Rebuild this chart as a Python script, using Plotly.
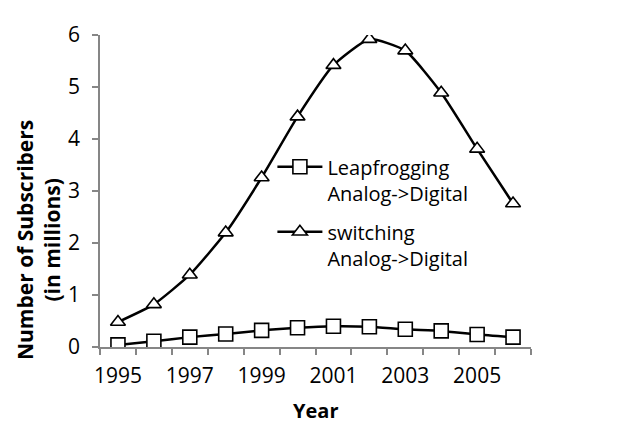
import plotly.graph_objects as go

years = [1995, 1996, 1997, 1998, 1999, 2000, 2001, 2002, 2003, 2004, 2005, 2006]
leapfrogging = [0.04, 0.11, 0.19, 0.25, 0.32, 0.37, 0.40, 0.39, 0.34, 0.31, 0.24, 0.19]
switching = [0.48, 0.82, 1.39, 2.20, 3.26, 4.43, 5.42, 5.92, 5.70, 4.89, 3.81, 2.76]
tick_years = [1995, 1997, 1999, 2001, 2003, 2005]
boundaries = [y - 0.5 for y in years] + [years[-1] + 0.5]

FONT = "Open Sans"

fig = go.Figure()
fig.add_trace(go.Scatter(
    x=years, y=leapfrogging, mode="lines+markers",
    name="Leapfrogging<br>Analog->Digital", legendgroup="a",
    line=dict(color="black", width=2.5, shape="spline", smoothing=0.5),
    marker=dict(symbol="square", size=14, color="white", line=dict(color="black", width=1.6)),
))
fig.add_trace(go.Scatter(
    x=years, y=switching, mode="lines+markers",
    name="switching<br>Analog->Digital", legendgroup="b",
    line=dict(color="black", width=2.5, shape="spline", smoothing=0.5),
    marker=dict(symbol="triangle-up", size=13, color="white", line=dict(color="black", width=1.6)),
))

fig.update_layout(
    width=617, height=426,
    margin=dict(l=92, r=94, t=19, b=87),
    paper_bgcolor="white", plot_bgcolor="white",
    font=dict(family=FONT, size=20, color="black"),
    showlegend=True,
    legend=dict(x=0.40, y=0.64, xanchor="left", yanchor="top",
                bgcolor="rgba(0,0,0,0)", font=dict(size=20, family=FONT),
                valign="top", traceorder="grouped", tracegroupgap=10, itemwidth=45),
    xaxis=dict(
        range=[1994.5, 2006.5], tickmode="array", tickvals=tick_years,
        ticktext=[str(t) for t in tick_years], ticks="", showgrid=False,
        showline=True, linecolor="#868686", linewidth=1.5, zeroline=False,
        minor=dict(tickmode="array", tickvals=boundaries, ticks="outside",
                   ticklen=6, tickcolor="#868686", tickwidth=1.5, showgrid=False),
        ticklabelstandoff=9, tickfont=dict(size=21, family=FONT),
    ),
    yaxis=dict(
        range=[0, 6], tickmode="array", tickvals=[0, 1, 2, 3, 4, 5, 6],
        ticks="outside", ticklen=6, tickcolor="#868686", tickwidth=1.5,
        showgrid=False, showline=True, linecolor="#868686", linewidth=1.5,
        zeroline=False, ticklabelstandoff=8, tickfont=dict(size=21, family=FONT),
    ),
    annotations=[
        dict(text="<b>Year</b>", x=0.5, y=-0.205, xref="paper", yref="paper",
             xanchor="center", yanchor="middle", showarrow=False,
             font=dict(size=20, family=FONT)),
        dict(text="<b>Number of Subscribers<br>(in millions)</b>", x=-0.143, y=0.344,
             xref="paper", yref="paper", xanchor="center", yanchor="middle",
             textangle=-90, showarrow=False, font=dict(size=21, family=FONT)),
    ],
)

fig.write_html("out.html")
